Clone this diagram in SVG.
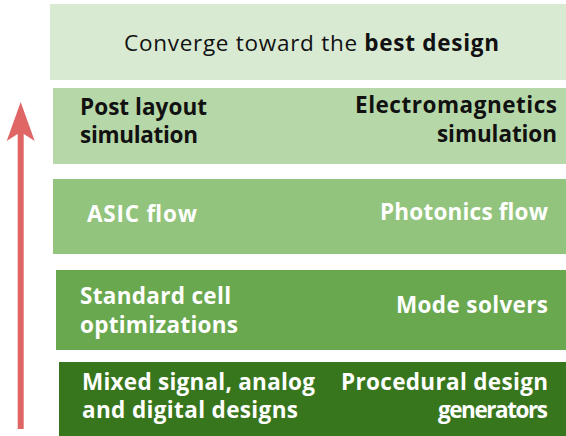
<svg xmlns="http://www.w3.org/2000/svg" width="566" height="436" viewBox="0 0 566 436">
<style>
text{font-family:"Open Sans","Liberation Sans",sans-serif;font-size:22.5px;}
.b{font-weight:bold;}
.dk{fill:#111111;}
.wt{fill:#ffffff;}
.r{text-anchor:end;}
</style>
<defs>
<marker id="ah" markerUnits="userSpaceOnUse" markerWidth="42" markerHeight="30" refX="13" refY="15" orient="auto" viewBox="0 0 42 30">
<path d="M41 15 L2 1 L11 15 L2 29 Z" fill="#e06666"/>
</marker>
</defs>
<g id="connectors">
<line x1="20.7" y1="429" x2="20.7" y2="130" stroke="#e06666" stroke-width="6" marker-end="url(#ah)"/>
</g>
<g id="n1">
<rect x="50" y="4" width="516" height="76" fill="#d9ead3"/>
<text x="124" y="51" class="dk" textLength="375" lengthAdjust="spacing">Converge toward the <tspan class="b">best design</tspan></text>
</g>
<g id="n2">
<rect x="53" y="88" width="513" height="76" fill="#b6d7a8"/>
<text x="80" y="115" class="b dk" textLength="127" lengthAdjust="spacing">Post layout</text>
<text x="80" y="143" class="b dk" textLength="118" lengthAdjust="spacing">simulation</text>
<text x="557" y="113" class="b dk r" textLength="202" lengthAdjust="spacing">Electromagnetics</text>
<text x="557" y="142" class="b dk r" textLength="120" lengthAdjust="spacing">simulation</text>
</g>
<g id="n3">
<rect x="53" y="179" width="513" height="75" fill="#93c47d"/>
<text x="87" y="222" class="b wt" textLength="110" lengthAdjust="spacing">ASIC flow</text>
<text x="548" y="220" class="b wt r" textLength="168" lengthAdjust="spacing">Photonics flow</text>
</g>
<g id="n4">
<rect x="56" y="270" width="510" height="80" fill="#6aa84f"/>
<text x="80" y="304" class="b wt" textLength="151" lengthAdjust="spacing">Standard cell</text>
<text x="80" y="333" class="b wt" textLength="158" lengthAdjust="spacing">optimizations</text>
<text x="548" y="313" class="b wt r" textLength="152" lengthAdjust="spacing">Mode solvers</text>
</g>
<g id="n5">
<rect x="59" y="362" width="507" height="74" fill="#38761d"/>
<text x="82" y="390" class="b wt" textLength="233" lengthAdjust="spacing">Mixed signal, analog</text>
<text x="82" y="418" class="b wt" textLength="216" lengthAdjust="spacing">and digital designs</text>
<text x="548" y="390" class="b wt r" textLength="207" lengthAdjust="spacing">Procedural design</text>
<text x="548" y="418" class="b wt r" textLength="110" lengthAdjust="spacing">generators</text>
</g>
</svg>
